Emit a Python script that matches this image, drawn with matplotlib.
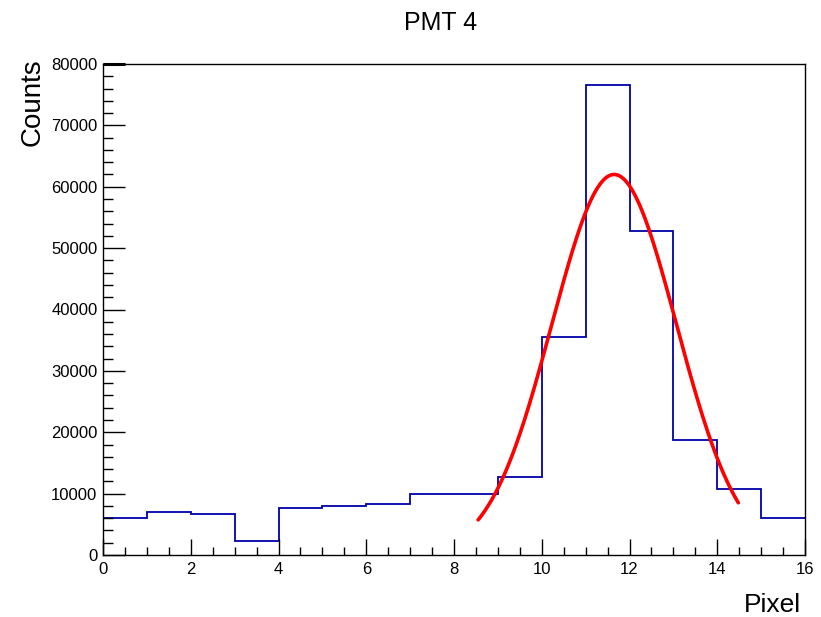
import numpy as np
import matplotlib
matplotlib.use("Agg")
import matplotlib.pyplot as plt
from matplotlib.ticker import MultipleLocator

# Histogram data (counts per pixel bin)
bin_edges = list(range(0, 17))
counts = [6000, 7000, 6700, 2300, 7650, 8000, 8300, 9900, 9900,
          12700, 35500, 76500, 52800, 18700, 10700, 6000]

# Gaussian fit parameters (amplitude, mean, sigma) and fit range
fit_amp = 62000
fit_mean = 11.65
fit_sigma = 1.42
fit_range = (8.55, 14.48)

plt.rcParams['font.family'] = ['Liberation Sans', 'DejaVu Sans']

W, H = 821, 617
fig = plt.figure(figsize=(W / 100, H / 100), dpi=100)
ax = fig.add_axes([103 / W, 1 - 555 / H, (805 - 103) / W, (555 - 64) / H])

ax.stairs(counts, bin_edges, color='#0000aa', lw=1.3, baseline=None)

xf = np.linspace(fit_range[0], fit_range[1], 300)
yf = fit_amp * np.exp(-0.5 * ((xf - fit_mean) / fit_sigma) ** 2)
ax.plot(xf, yf, color='#ff0000', lw=2.6, solid_capstyle='round')

ax.set_xlim(0, 16)
ax.set_ylim(0, 80000)

ax.xaxis.set_major_locator(MultipleLocator(2))
ax.xaxis.set_minor_locator(MultipleLocator(0.5))
ax.yaxis.set_major_locator(MultipleLocator(10000))
ax.yaxis.set_minor_locator(MultipleLocator(2000))

ax.tick_params(axis='both', which='both', direction='in', top=False, right=False,
               labelsize=12, colors='black', width=1)
ax.tick_params(axis='y', which='major', length=16, pad=4)
ax.tick_params(axis='y', which='minor', length=7)
ax.tick_params(axis='x', which='major', length=11.5, pad=5)
ax.tick_params(axis='x', which='minor', length=6)

for sp in ax.spines.values():
    sp.set_linewidth(1.0)
    sp.set_color('black')

# small thick segment at top-left corner of the frame
ax.plot([0, 0.032], [1, 1], transform=ax.transAxes, color='black', lw=2.2,
        clip_on=False, solid_capstyle='butt')

fig.text(441 / W, 1 - 23 / H, 'PMT 4', ha='center', va='center', fontsize=18)
fig.text(33 / W, 1 - 58 / H, 'Counts', ha='center', va='top', rotation=90, fontsize=20)
fig.text(801 / W, 1 - 605 / H, 'Pixel', ha='right', va='center', fontsize=19)

fig.savefig('out.png', dpi=100, facecolor='white')
